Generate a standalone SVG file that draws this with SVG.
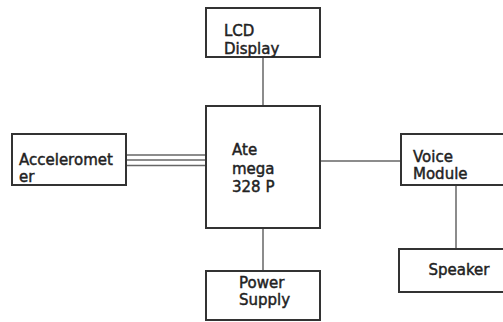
<svg xmlns="http://www.w3.org/2000/svg" width="503" height="322" viewBox="0 0 503 322">
<style>
.box{fill:#fff;stroke:#333;stroke-width:2}
.con{stroke:#666;stroke-width:1.5;fill:none}
text{font-family:"DejaVu Sans","Noto Sans",sans-serif;font-size:15px;fill:#222;stroke:#222;stroke-width:0.45}
</style>
<rect width="503" height="322" fill="#fff"/>
<g id="connectors">
<line class="con" x1="263" y1="57" x2="263" y2="106"/>
<line class="con" x1="263" y1="228" x2="263" y2="271"/>
<line class="con" x1="320" y1="161" x2="401" y2="161"/>
<line class="con" x1="456" y1="185" x2="456" y2="249"/>
<line class="con" x1="126" y1="155" x2="206" y2="155"/>
<line class="con" x1="126" y1="160" x2="206" y2="160"/>
<line class="con" x1="126" y1="165.5" x2="206" y2="165.5"/>
</g>
<g id="lcd">
<rect class="box" x="206" y="8" width="114" height="49"/>
<text x="224" y="36">LCD</text>
<text x="224" y="54">Display</text>
</g>
<g id="atmega">
<rect class="box" x="206" y="106" width="114" height="122"/>
<text x="232" y="155">Ate</text>
<text x="232" y="174">mega</text>
<text x="232" y="192">328 P</text>
</g>
<g id="accelerometer">
<rect class="box" x="12" y="134" width="114" height="51"/>
<text x="19" y="165">Acceleromet</text>
<text x="19" y="182">er</text>
</g>
<g id="voice">
<rect class="box" x="401" y="134" width="110" height="51"/>
<text x="413" y="162">Voice</text>
<text x="413" y="179">Module</text>
</g>
<g id="speaker">
<rect class="box" x="399" y="249" width="112" height="43"/>
<text x="459" y="275" text-anchor="middle">Speaker</text>
</g>
<g id="power">
<rect class="box" x="206" y="271" width="114" height="49"/>
<text x="239" y="288">Power</text>
<text x="239" y="305">Supply</text>
</g>
</svg>
